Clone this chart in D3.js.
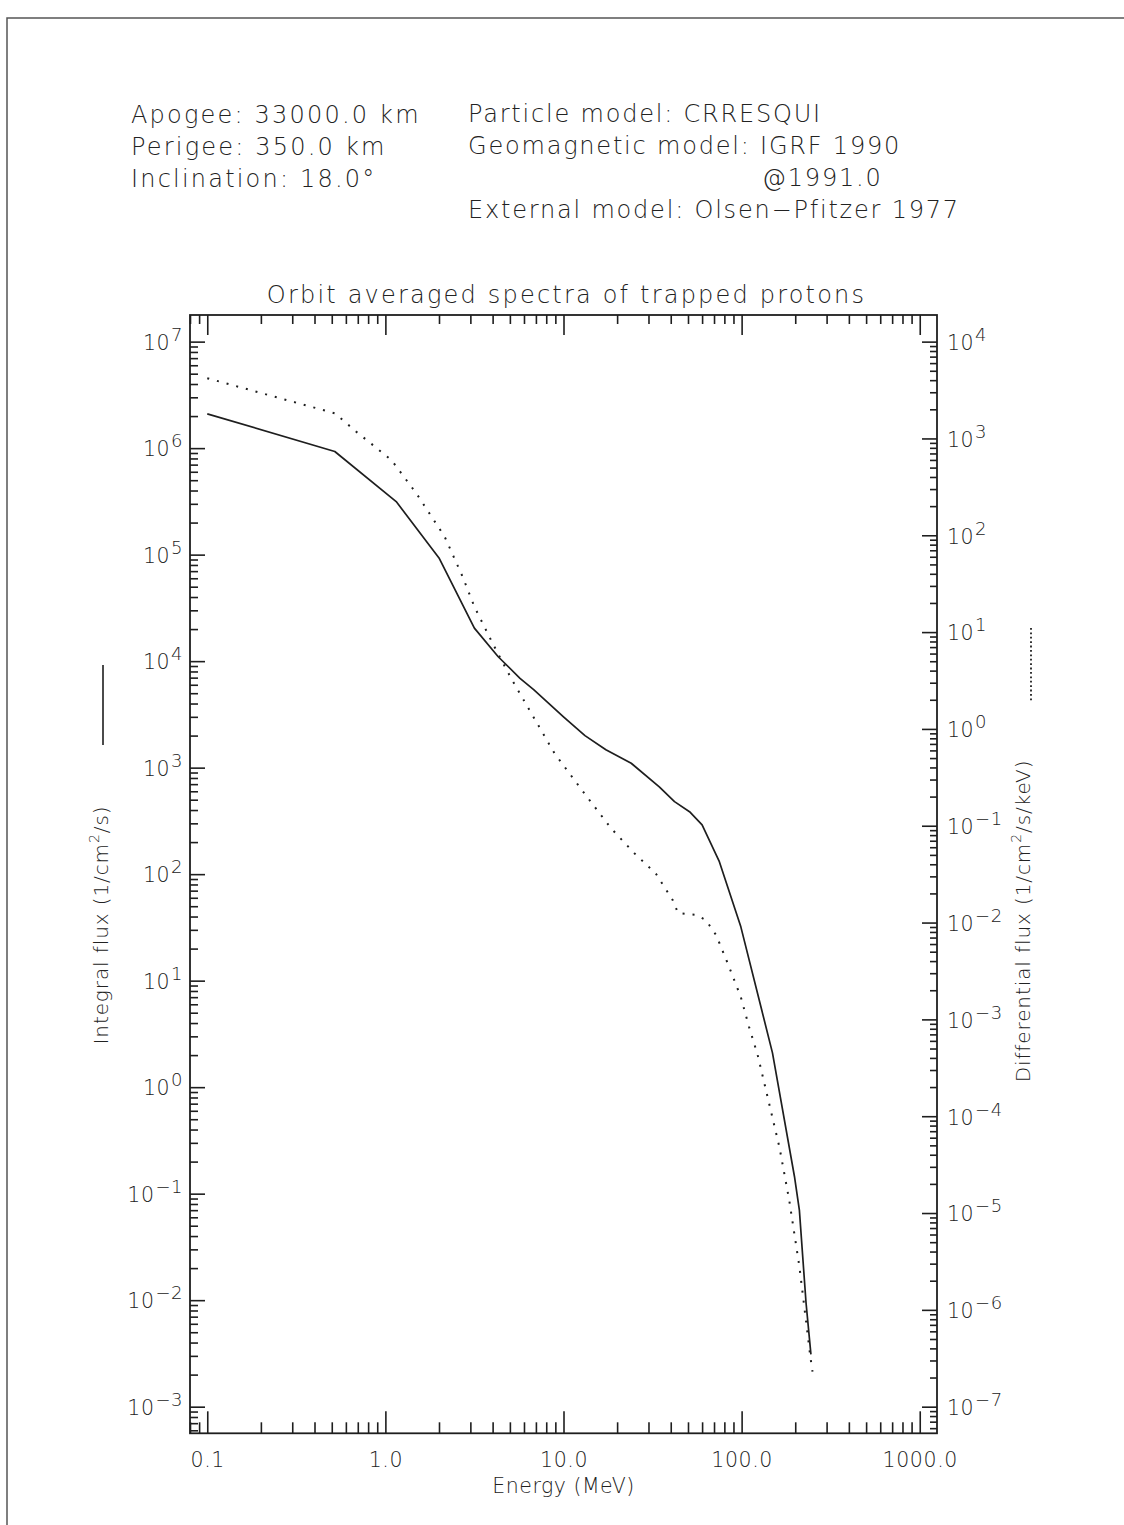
<!DOCTYPE html>
<html lang="en">
<head>
<meta charset="utf-8">
<title>Orbit averaged spectra of trapped protons</title>
<script src="https://cdn.jsdelivr.net/npm/d3@7"></script>
<style>
  body { margin: 0; background: #fff; }
  text { font-family: "DejaVu Sans", sans-serif; font-weight: 200; fill: #222; }
</style>
</head>
<body>
<script>
    // integral flux spectrum (solid line, left axis)
    var intEnergy = [0.1, 0.52, 1.15, 2.0, 3.16, 4.3, 5.7, 6.8, 10, 13.2, 17.3, 24, 34.5, 42, 51, 60, 75, 99, 149, 198, 211, 230, 245];
    var intFlux = [2.1e6, 9.3e5, 3.15e5, 9.3e4, 2.04e4, 1.1e4, 6.9e3, 5.4e3, 3.0e3, 2.0e3, 1.47e3, 1.1e3, 6.6e2, 4.8e2, 3.86e2, 2.9e2, 1.31e2, 32, 2.1, 0.145, 0.07, 0.0094, 0.0031];

    // differential flux spectrum (dotted line, right axis)
    var diffEnergy = [0.1, 0.52, 0.686, 1.08, 1.49, 2.15, 2.72, 3.16, 4.0, 5.08, 8.9, 13.1, 18.5, 25, 33, 41, 44, 55.5, 63, 72, 85, 99, 110, 123, 163, 185, 211, 232, 243, 250];
    var diffFlux = [4190, 1820, 1175, 600, 272, 97, 37, 18.3, 7.65, 3.33, 0.56, 0.216, 0.094, 0.052, 0.032, 0.0171, 0.0125, 0.012, 0.0106, 0.0074, 0.0035, 0.0017, 8.4e-4, 4.3e-4, 4.8e-5, 1.36e-5, 2.8e-6, 6.7e-7, 3.3e-7, 2.3e-7];

    var xTickValues = [0.1, 1, 10, 100, 1000];
    var xTickLabels = ["0.1", "1.0", "10.0", "100.0", "1000.0"];
    var leftExponents = [7, 6, 5, 4, 3, 2, 1, 0, -1, -2, -3];
    var rightExponents = [4, 3, 2, 1, 0, -1, -2, -3, -4, -5, -6, -7];

    var headerLeft = ["Apogee: 33000.0 km", "Perigee: 350.0 km", "Inclination: 18.0\u00b0"];
    var headerRight = ["Particle model: CRRESQUI", "Geomagnetic model: IGRF 1990", "@1991.0", "External model: Olsen\u2212Pfitzer 1977"];

    var w = 1124, h = 1525;
    var ink = "#1e1e1e";

    var svg = d3.select("body").append("svg")
            .attr("width", w)
            .attr("height", h);

    // page border (top and left edges are visible)
    svg.append("path")
            .attr("d", "M7," + h + "V18H" + w)
            .attr("fill", "none")
            .attr("stroke", "#555")
            .attr("stroke-width", 1.5);

    // header
    var hdrSize = 24;
    svg.selectAll(".hl").data(headerLeft).enter().append("text")
            .attr("x", 131)
            .attr("y", function (d, i) { return 123 + i * 32; })
            .attr("font-size", hdrSize)
            .attr("letter-spacing", 2.2)
            .text(function (d) { return d; });
    svg.selectAll(".hr").data(headerRight).enter().append("text")
            .attr("x", function (d, i) { return i == 2 ? 762 : 468; })
            .attr("y", function (d, i) { return 122 + i * 32; })
            .attr("font-size", hdrSize)
            .attr("letter-spacing", 1.8)
            .text(function (d) { return d; });

    // plot box
    var pLeft = 190, pRight = 937, pTop = 315, pBottom = 1433.3;
    var x = d3.scaleLog().domain([0.08, 1250]).range([pLeft, pRight]);
    var yL = d3.scaleLog().domain([Math.pow(10, -3.25), Math.pow(10, 7.25)]).range([pBottom, pTop]);
    var yR = d3.scaleLog().domain([Math.pow(10, -7.275), Math.pow(10, 4.275)]).range([pBottom, pTop]);

    function minors(scale) {
        var dom = scale.domain(), out = [];
        for (var e = Math.floor(Math.log10(dom[0])); e <= Math.ceil(Math.log10(dom[1])); e++) {
            for (var k = 2; k <= 9; k++) {
                var v = k * Math.pow(10, e);
                if (v >= dom[0] && v <= dom[1]) out.push(v);
            }
        }
        return out;
    }
    function pow10(list) { return list.map(function (e) { return Math.pow(10, e); }); }

    function addAxis(axis, tx, ty) {
        var g = svg.append("g")
                .attr("transform", "translate(" + tx + "," + ty + ")")
                .call(axis);
        g.select(".domain").remove();
        g.selectAll("line").attr("stroke", ink).attr("stroke-width", 1.6);
        g.selectAll("text").attr("fill", ink).attr("font-family", "DejaVu Sans, sans-serif");
        return g;
    }

    // bottom x axis
    addAxis(d3.axisBottom(x).tickValues(xTickValues).tickSize(-22).tickPadding(19)
            .tickFormat(function (d, i) { return xTickLabels[i]; }), 0, pBottom)
            .selectAll("text").attr("font-size", 20.5).attr("letter-spacing", 0.6);
    addAxis(d3.axisBottom(x).tickValues(minors(x)).tickSize(-11).tickFormat(""), 0, pBottom);
    // top x axis
    addAxis(d3.axisTop(x).tickValues(xTickValues).tickSize(-20).tickFormat(""), 0, pTop);
    addAxis(d3.axisTop(x).tickValues(minors(x)).tickSize(-9).tickFormat(""), 0, pTop);
    // left y axis
    addAxis(d3.axisLeft(yL).tickValues(pow10(leftExponents)).tickSize(-15).tickFormat(""), pLeft, 0);
    addAxis(d3.axisLeft(yL).tickValues(minors(yL)).tickSize(-8).tickFormat(""), pLeft, 0);
    // right y axis
    addAxis(d3.axisRight(yR).tickValues(pow10(rightExponents)).tickSize(-15).tickFormat(""), pRight, 0);
    addAxis(d3.axisRight(yR).tickValues(minors(yR)).tickSize(-7).tickFormat(""), pRight, 0);

    // frame
    svg.append("rect")
            .attr("x", pLeft).attr("y", pTop)
            .attr("width", pRight - pLeft).attr("height", pBottom - pTop)
            .attr("fill", "none")
            .attr("stroke", ink)
            .attr("stroke-width", 1.8);

    // power-of-ten labels
    function expLabel(e) { return e < 0 ? "\u2212" + (-e) : "" + e; }
    function powLabels(exps, scale, xPos, anchor) {
        var t = svg.selectAll(null).data(exps).enter().append("text")
                .attr("x", xPos)
                .attr("y", function (d) { return scale(Math.pow(10, d)) + 8.3; })
                .attr("text-anchor", anchor)
                .attr("font-size", 20.5)
                .attr("letter-spacing", 0.5);
        t.append("tspan").text("10");
        t.append("tspan")
                .attr("font-size", 18)
                .attr("dx", 1)
                .attr("dy", -9)
                .text(function (d) { return expLabel(d); });
    }
    powLabels(leftExponents, yL, 183, "end");
    powLabels(rightExponents, yR, 947, "start");

    // titles
    svg.append("text")
            .attr("x", (pLeft + pRight) / 2 + 3)
            .attr("y", 303)
            .attr("text-anchor", "middle")
            .attr("font-size", hdrSize)
            .attr("letter-spacing", 2.2)
            .text("Orbit averaged spectra of trapped protons");

    svg.append("text")
            .attr("x", (pLeft + pRight) / 2)
            .attr("y", 1493)
            .attr("text-anchor", "middle")
            .attr("font-size", 20.5)
            .attr("letter-spacing", 0.5)
            .text("Energy (MeV)");

    function rotTitle(parts, cx, cy) {
        var t = svg.append("text")
                .attr("transform", "translate(" + cx + "," + cy + ") rotate(-90)")
                .attr("text-anchor", "middle")
                .attr("font-size", 20)
                .attr("letter-spacing", 0.9);
        t.append("tspan").text(parts[0]);
        t.append("tspan").attr("font-size", 14).attr("dy", -9).text(parts[1]);
        t.append("tspan").attr("dy", 9).text(parts[2]);
    }
    rotTitle(["Integral flux (1/cm", "2", "/s)"], 108, 925);
    rotTitle(["Differential flux (1/cm", "2", "/s/keV)"], 1030, 921);

    // legend marks
    svg.append("line")
            .attr("x1", 103).attr("x2", 103).attr("y1", 665).attr("y2", 745)
            .attr("stroke", ink).attr("stroke-width", 1.6);
    svg.append("line")
            .attr("x1", 1031).attr("x2", 1031).attr("y1", 628).attr("y2", 702)
            .attr("stroke", ink).attr("stroke-width", 1.8)
            .attr("stroke-dasharray", "1.8 2.6");

    // curves
    var intLine = d3.line()
            .x(function (d) { return x(d[0]); })
            .y(function (d) { return yL(d[1]); });
    var diffLine = d3.line()
            .x(function (d) { return x(d[0]); })
            .y(function (d) { return yR(d[1]); });

    svg.append("path")
            .datum(d3.zip(diffEnergy, diffFlux))
            .attr("d", diffLine)
            .attr("fill", "none")
            .attr("stroke", ink)
            .attr("stroke-width", 2)
            .attr("stroke-dasharray", "2 8");

    svg.append("path")
            .datum(d3.zip(intEnergy, intFlux))
            .attr("d", intLine)
            .attr("fill", "none")
            .attr("stroke", ink)
            .attr("stroke-width", 1.7)
            .attr("stroke-linejoin", "round");
</script>
</body>
</html>
